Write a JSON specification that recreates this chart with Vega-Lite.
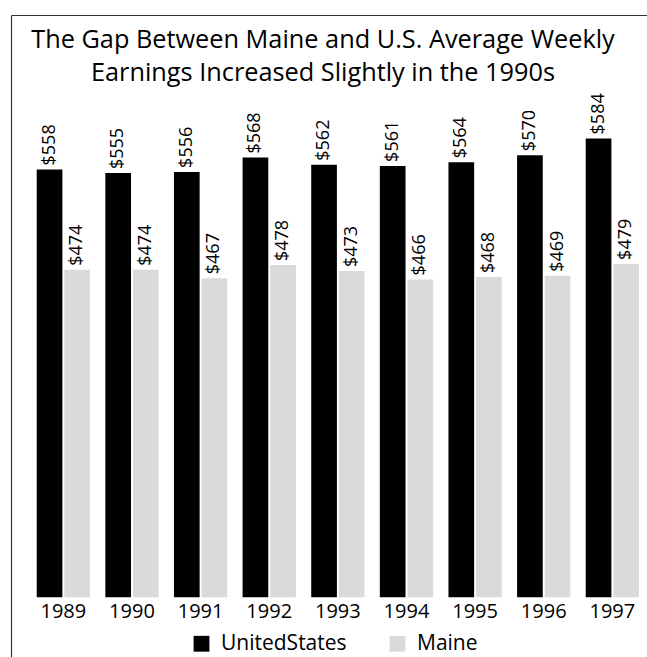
{
  "$schema": "https://vega.github.io/schema/vega-lite/v6.json",
  "autosize": {"type": "none"},
  "padding": {"left": 11, "top": 15, "right": 0, "bottom": 0},
  "width": 636,
  "height": 642,
  "background": "white",
  "config": {"view": {"stroke": null}, "font": "Open Sans"},
  "title": {
    "text": ["The Gap Between Maine and U.S. Average Weekly", "Earnings Increased Slightly in the 1990s"],
    "orient": "top",
    "anchor": "middle",
    "offset": -71,
    "dx": -6,
    "fontSize": 25.3,
    "fontWeight": "normal",
    "lineHeight": 33,
    "color": "black",
    "font": "Open Sans"
  },
  "data": {
    "values": [
      {"Year": "1989", "Series": "UnitedStates", "Earnings": 558},
      {"Year": "1989", "Series": "Maine", "Earnings": 474},
      {"Year": "1990", "Series": "UnitedStates", "Earnings": 555},
      {"Year": "1990", "Series": "Maine", "Earnings": 474},
      {"Year": "1991", "Series": "UnitedStates", "Earnings": 556},
      {"Year": "1991", "Series": "Maine", "Earnings": 467},
      {"Year": "1992", "Series": "UnitedStates", "Earnings": 568},
      {"Year": "1992", "Series": "Maine", "Earnings": 478},
      {"Year": "1993", "Series": "UnitedStates", "Earnings": 562},
      {"Year": "1993", "Series": "Maine", "Earnings": 473},
      {"Year": "1994", "Series": "UnitedStates", "Earnings": 561},
      {"Year": "1994", "Series": "Maine", "Earnings": 466},
      {"Year": "1995", "Series": "UnitedStates", "Earnings": 564},
      {"Year": "1995", "Series": "Maine", "Earnings": 468},
      {"Year": "1996", "Series": "UnitedStates", "Earnings": 570},
      {"Year": "1996", "Series": "Maine", "Earnings": 469},
      {"Year": "1997", "Series": "UnitedStates", "Earnings": 584},
      {"Year": "1997", "Series": "Maine", "Earnings": 479}
    ]
  },
  "encoding": {
    "x": {
      "field": "Year",
      "type": "ordinal",
      "scale": {"paddingInner": 0.2233, "paddingOuter": 0.2455, "align": 0.763}
    },
    "xOffset": {
      "field": "Series",
      "type": "nominal",
      "sort": ["UnitedStates", "Maine"],
      "scale": {"paddingInner": 0.07, "paddingOuter": 0}
    },
    "y": {
      "field": "Earnings",
      "type": "quantitative",
      "scale": {"domain": [150, 687.3], "zero": false, "nice": false},
      "axis": {"title": null, "labels": false, "ticks": false, "grid": false, "domain": true, "domainColor": "#333333", "domainWidth": 1.2}
    }
  },
  "layer": [
    {
      "mark": {"type": "bar"},
      "encoding": {
        "x": {
          "field": "Year",
          "type": "ordinal",
          "axis": {"orient": "bottom", "offset": -60, "title": null, "domain": false, "ticks": false, "grid": false, "labelAngle": 0, "labelFontSize": 20, "labelColor": "black", "labelPadding": 4, "labelFont": "Open Sans"}
        },
        "y2": {"datum": 200},
        "color": {
          "field": "Series",
          "type": "nominal",
          "scale": {"domain": ["UnitedStates", "Maine"], "range": ["#000000", "#dadada"]},
          "legend": {
            "orient": "none",
            "legendX": 180,
            "legendY": 618,
            "direction": "horizontal",
            "title": null,
            "symbolType": "square",
            "symbolSize": 250,
            "symbolStrokeWidth": 0,
            "labelFontSize": 21,
            "labelFont": "Open Sans",
            "labelColor": "black",
            "labelOffset": 9,
            "columnPadding": 40
          }
        }
      }
    },
    {
      "mark": {"type": "text", "angle": 270, "align": "left", "baseline": "middle", "dx": 4, "fontSize": 18, "color": "black", "font": "Open Sans"},
      "encoding": {
        "x": {
          "field": "Year",
          "type": "ordinal",
          "axis": {"orient": "top", "title": null, "labels": false, "ticks": false, "grid": false, "domain": true, "domainColor": "#333333", "domainWidth": 1.2}
        },
        "text": {"field": "Earnings", "type": "quantitative", "format": "$.0f"}
      }
    }
  ],
  "resolve": {"axis": {"x": "independent"}}
}
